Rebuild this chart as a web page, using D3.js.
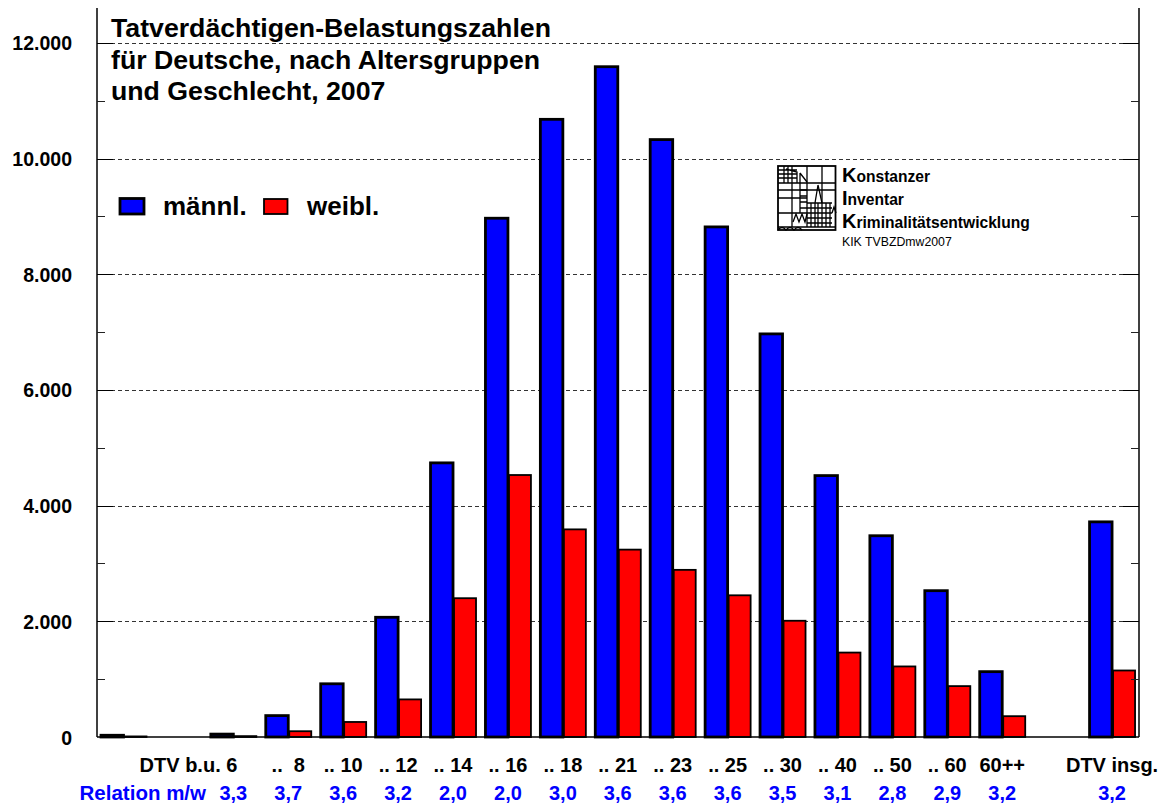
<!DOCTYPE html>
<html>
<head>
<meta charset="utf-8">
<script src="https://cdn.jsdelivr.net/npm/d3@7/dist/d3.min.js"></script>
<style>
    html, body { margin: 0; padding: 0; background: #fff; }
    text { font-family: "Liberation Sans", Arial, sans-serif; font-weight: bold; }
</style>
</head>
<body>
<div id="chart"></div>
<script>

// one slot per age group, the empty ones are just gaps on the axis
let slots = ["dtv0", "gap1", "u6", "u8", "u10", "u12", "u14", "u16", "u18", "u21", "u23", "u25", "u30", "u40", "u50", "u60", "o60", "gap2", "dtv"];
let maleValues = [30, 0, 50, 370, 920, 2070, 4740, 8970, 10680, 11590, 10330, 8820, 6970, 4520, 3480, 2530, 1130, 0, 3720];
let femaleValues = [10, 0, 15, 100, 260, 650, 2400, 4530, 3590, 3240, 2890, 2450, 2010, 1460, 1220, 880, 360, 0, 1150];

let groupLabels = ["DTV b.u. 6", "..  8", ".. 10", ".. 12", ".. 14", ".. 16", ".. 18", ".. 21", ".. 23", ".. 25", ".. 30", ".. 40", ".. 50", ".. 60", "60++", "DTV insg."];
let groupLabelSlots = ["u6", "u8", "u10", "u12", "u14", "u16", "u18", "u21", "u23", "u25", "u30", "u40", "u50", "u60", "o60", "dtv"];
let ratioLabels = ["3,3", "3,7", "3,6", "3,2", "2,0", "2,0", "3,0", "3,6", "3,6", "3,6", "3,5", "3,1", "2,8", "2,9", "3,2", "3,2"];

let majorTicks = [0, 2000, 4000, 6000, 8000, 10000, 12000];
let minorTicks = [1000, 3000, 5000, 7000, 9000, 11000];
let titleLines = ["Tatverdächtigen-Belastungszahlen", "für Deutsche, nach Altersgruppen", "und Geschlecht, 2007"];
let logoLines = ["onstanzer", "nventar", "riminalitätsentwicklung"];
let logoInitials = ["K", "I", "K"];

let width = 1164, height = 804;
let left = 97, right = 1139, top_ = 8, bottom = 737;

let svg = d3.select("#chart").append("svg")
    .attr("width", width)
    .attr("height", height)
    .style("display", "block");

let y = d3.scaleLinear().domain([0, 12605]).range([bottom, top_]);

let x = d3.scaleBand()
    .domain(slots)
    .range([98.5, 98.5 + 54.92 * slots.length])
    .paddingInner(0)
    .paddingOuter(0);

let tickFormat = d => d3.format(",")(d).replace(/,/g, ".");
let labelCenter = slot => x(slot) + 25;

// dashed grid goes behind the bars
svg.append("g").selectAll("line")
    .data(majorTicks.filter(d => d > 0))
    .enter().append("line")
    .attr("x1", left)
    .attr("x2", right)
    .attr("y1", d => Math.round(y(d)) + 0.5)
    .attr("y2", d => Math.round(y(d)) + 0.5)
    .attr("stroke", "#333")
    .attr("stroke-width", 1)
    .attr("stroke-dasharray", "4,3");

// bars
let data = slots.map((s, i) => ({slot: s, male: maleValues[i], female: femaleValues[i]}));
let bars = svg.append("g");

bars.selectAll(".bar-f")
    .data(data.filter(d => d.female > 0))
    .enter().append("rect")
    .attr("class", "bar-f")
    .attr("x", d => x(d.slot) + 26)
    .attr("y", d => y(d.female))
    .attr("width", 22)
    .attr("height", d => y(0) - y(d.female))
    .attr("fill", "#ff0000")
    .attr("stroke", "#000")
    .attr("stroke-width", 1.8);

bars.selectAll(".bar-m")
    .data(data.filter(d => d.male > 0))
    .enter().append("rect")
    .attr("class", "bar-m")
    .attr("x", d => x(d.slot) + 2.5)
    .attr("y", d => y(d.male))
    .attr("width", 22.5)
    .attr("height", d => y(0) - y(d.male))
    .attr("fill", "#0000ff")
    .attr("stroke", "#000")
    .attr("stroke-width", 2.8);

// y axes, both sides with inward ticks
function drawAxis(xPos, dir) {
    let g = svg.append("g");
    g.append("line")
        .attr("x1", xPos).attr("x2", xPos)
        .attr("y1", top_).attr("y2", bottom)
        .attr("stroke", "#000")
        .attr("stroke-width", 1.5);
    g.selectAll(".major")
        .data(majorTicks.filter(d => d > 0))
        .enter().append("line")
        .attr("x1", xPos)
        .attr("x2", xPos + dir * 16)
        .attr("y1", d => Math.round(y(d)) + 0.5)
        .attr("y2", d => Math.round(y(d)) + 0.5)
        .attr("stroke", "#000");
    g.selectAll(".minor")
        .data(minorTicks)
        .enter().append("line")
        .attr("x1", xPos)
        .attr("x2", xPos + dir * 8)
        .attr("y1", d => Math.round(y(d)) + 0.5)
        .attr("y2", d => Math.round(y(d)) + 0.5)
        .attr("stroke", "#222");
}
drawAxis(left, 1);
drawAxis(right, -1);

// baseline
svg.append("line")
    .attr("x1", left).attr("x2", right)
    .attr("y1", bottom).attr("y2", bottom)
    .attr("stroke", "#000")
    .attr("stroke-width", 1.5);

// y labels
svg.append("g").selectAll("text")
    .data(majorTicks)
    .enter().append("text")
    .attr("x", 72)
    .attr("y", d => y(d) + 7.5)
    .attr("text-anchor", "end")
    .attr("font-size", 19.5)
    .attr("fill", "#000")
    .text(tickFormat);

// x labels, the first one sits across its empty neighbours
svg.append("g").selectAll("text")
    .data(groupLabels)
    .enter().append("text")
    .attr("x", (d, i) => i === 0 ? 188.5 : labelCenter(groupLabelSlots[i]))
    .attr("y", 772)
    .attr("text-anchor", "middle")
    .attr("font-size", 20)
    .attr("xml:space", "preserve")
    .attr("fill", "#000")
    .text(d => d);

svg.append("text")
    .attr("x", 206)
    .attr("y", 800)
    .attr("text-anchor", "end")
    .attr("font-size", 20.5)
    .attr("fill", "#0000ff")
    .text("Relation m/w");

svg.append("g").selectAll("text")
    .data(ratioLabels)
    .enter().append("text")
    .attr("x", (d, i) => labelCenter(groupLabelSlots[i]))
    .attr("y", 800)
    .attr("text-anchor", "middle")
    .attr("font-size", 20)
    .attr("fill", "#0000ff")
    .text(d => d);

// title
svg.append("g").selectAll("text")
    .data(titleLines)
    .enter().append("text")
    .attr("x", 111)
    .attr("y", (d, i) => 37 + i * 31.5)
    .attr("font-size", 26.7)
    .attr("fill", "#000")
    .text(d => d);

// legend
svg.append("rect").attr("x", 120).attr("y", 198.5).attr("width", 24).attr("height", 15.5)
    .attr("fill", "#0000ff").attr("stroke", "#000").attr("stroke-width", 2.8);
svg.append("rect").attr("x", 264).attr("y", 199).attr("width", 23.5).attr("height", 15)
    .attr("fill", "#ff0000").attr("stroke", "#000").attr("stroke-width", 1.8);
svg.append("text").attr("x", 163).attr("y", 215).attr("font-size", 26).attr("fill", "#000").text("männl.");
svg.append("text").attr("x", 307).attr("y", 215).attr("font-size", 26).attr("fill", "#000").text("weibl.");

// KIK logo
let logo = svg.append("g").attr("fill", "none").attr("stroke", "#000").attr("stroke-width", 1.3);
logo.append("rect").attr("x", 778).attr("y", 166).attr("width", 57.5).attr("height", 64).attr("stroke-width", 1.8);
logo.append("path").attr("d", "M778 183H836M778 190H836M778 198H807M778 213H807M792 166V227M807 166V227M822 166V203M778 227H836");
logo.append("path").attr("d", "M778 170H797M778 174H797M778 178H797M784 166V183M788 166V183M786 169L797 172V183M800 173L807 182M800 173V213M800 190H807M800 196H807M800 202H807M800 208H807");
logo.append("path").attr("d", "M793 222L796 214L799 222L802 214L805 222L807 214M778 230Q782 225 786 230Q790 225 794 230Q798 225 802 230");
logo.append("path").attr("d", "M818 185L815 203V227M818 185L822 203V227M807 203H832M807 208H832M807 213H832M807 218H832M807 223H832M811 203V227M818 203V227M826 203V227M830 203V227M832 213L834 207L836 213");

// big initial letter, then the rest of the word
svg.append("g").selectAll("text")
    .data(logoLines)
    .enter().append("text")
    .attr("x", 842)
    .attr("y", (d, i) => 182 + i * 23)
    .attr("font-size", 15.6)
    .attr("fill", "#000")
    .each(function(d, i) {
        d3.select(this).append("tspan").style("font-size", "20px").text(logoInitials[i]);
        d3.select(this).append("tspan").text(d);
    });
svg.append("text")
    .attr("x", 842)
    .attr("y", 246)
    .attr("font-size", 12.3)
    .style("font-weight", "normal")
    .attr("fill", "#000")
    .text("KIK TVBZDmw2007");

</script>
</body>
</html>
